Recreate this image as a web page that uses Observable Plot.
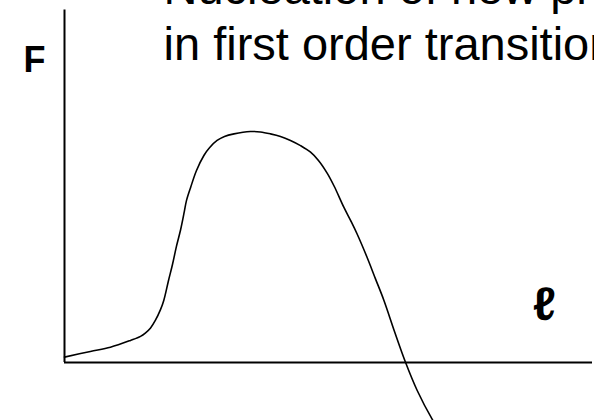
<!DOCTYPE html>
<html>
<head>
<meta charset="utf-8">
<script src="https://cdn.jsdelivr.net/npm/d3@7"></script>
<script src="https://cdn.jsdelivr.net/npm/@observablehq/plot@0.6"></script>
<style>
  html, body { margin: 0; padding: 0; background: #fff; width: 594px; height: 420px; overflow: hidden; }
  #chart svg { display: block; }
</style>
</head>
<body>
<div id="chart"></div>
<script>
// Free energy F of a nucleus as a function of its size ℓ (arbitrary units)
const ell = [
  0, 0.49, 0.87, 1.25, 1.44, 1.53, 1.63, 1.72, 1.82, 1.88, 1.97, 2.045, 2.12, 2.2,
  2.27, 2.31, 2.39, 2.5, 2.64, 2.75, 2.89, 3.03, 3.21, 3.52, 3.71, 3.9, 4.09, 4.28,
  4.47, 4.66, 4.81, 4.98, 5.11, 5.29, 5.42, 5.54, 5.73, 5.89, 6.05, 6.25, 6.46,
  6.68, 6.96, 7.05
];
const freeEnergy = [
  0.023, 0.047, 0.065, 0.094, 0.111, 0.125, 0.147, 0.179, 0.226, 0.264, 0.349, 0.417, 0.494, 0.566,
  0.643, 0.689, 0.746, 0.817, 0.881, 0.915, 0.945, 0.962, 0.973, 0.983, 0.981, 0.973, 0.962, 0.945,
  0.923, 0.895, 0.86, 0.804, 0.749, 0.661, 0.604, 0.548, 0.448, 0.356, 0.264, 0.132, 0,
  -0.119, -0.24, -0.272
];

const titleLines = ["Nucleation of new phase", "in first order transitions"];
const yLabel = "F";
const xLabel = "ℓ";

const chart = Plot.plot({
  width: 594,
  height: 420,
  marginTop: 0,
  marginRight: 0,
  marginBottom: 0,
  marginLeft: 0,
  x: { domain: [0, 10], range: [64, 592], axis: null },
  y: { domain: [0, 1.5], range: [362, 9.5], axis: null },
  style: { fontFamily: "'Liberation Sans', Arial, sans-serif", background: "#fff", color: "#000" },
  marks: [
    // axes drawn as plain lines through the origin
    Plot.ruleX([0], { y1: 0, y2: 1.5, stroke: "#000", strokeWidth: 2 }),
    Plot.ruleY([0], { x1: 0, x2: 10, stroke: "#000", strokeWidth: 2 }),
    // free-energy curve
    Plot.line(ell, {
      x: ell,
      y: freeEnergy,
      curve: "catmull-rom",
      stroke: "#000",
      strokeWidth: 1.6
    }),
    // axis names
    Plot.text([yLabel], {
      x: -0.57, y: 1.285, text: d => d,
      fontSize: 36, fontWeight: "bold", textAnchor: "middle", lineAnchor: "middle", fill: "#000"
    }),
    Plot.text([xLabel], {
      x: 9.09, y: 0.247, text: d => d,
      fontSize: 47, fontWeight: "bold", textAnchor: "middle", lineAnchor: "middle", fill: "#000"
    }),
    // heading, running off the top and right edges
    Plot.text([titleLines.join("\n")], {
      frameAnchor: "top-left", dx: 163, dy: -36.5,
      text: d => d, fontSize: 47, lineHeight: 1.2,
      textAnchor: "start", lineAnchor: "top", fill: "#000"
    })
  ]
});

document.getElementById("chart").append(chart);
</script>
</body>
</html>
